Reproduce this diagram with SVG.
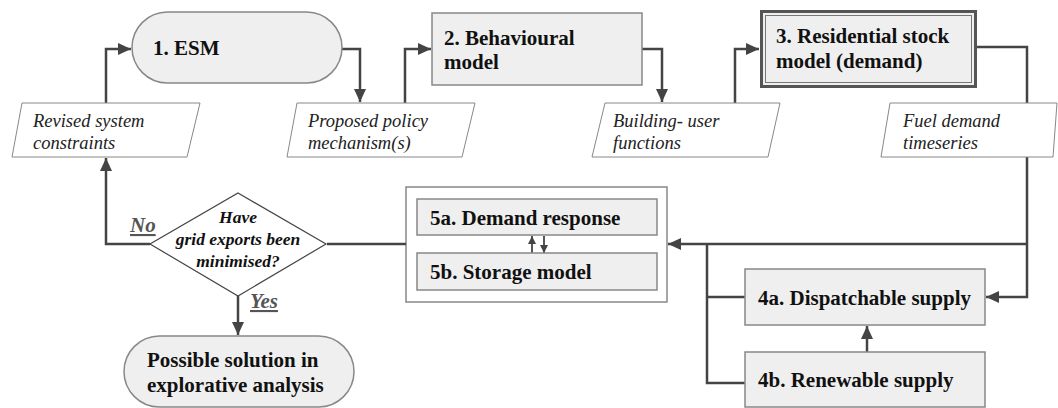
<svg xmlns="http://www.w3.org/2000/svg" width="1058" height="408" viewBox="0 0 1058 408">
<defs>
<marker id="arr" markerUnits="userSpaceOnUse" markerWidth="13" markerHeight="12" refX="13" refY="6" orient="auto"><path d="M0,0 L13,6 L0,12 z" fill="#444"/></marker>
<marker id="arrs" markerUnits="userSpaceOnUse" markerWidth="8" markerHeight="8" refX="8" refY="4" orient="auto"><path d="M0,0 L8,4 L0,8 z" fill="#444"/></marker>
</defs>
<style>
.c{fill:none;stroke:#444;stroke-width:2.5}
.cs{fill:none;stroke:#444;stroke-width:1.8}
.box{fill:#efefef;stroke:#888;stroke-width:1.5}
.para{fill:#fff;stroke:#888;stroke-width:1}
.b{font-family:"Liberation Serif","Times New Roman",serif;font-weight:bold;font-size:21px;fill:#111}
.i{font-family:"Liberation Serif","Times New Roman",serif;font-style:italic;font-size:18.5px;fill:#222}
.q{font-family:"Liberation Serif","Times New Roman",serif;font-style:italic;font-weight:bold;font-size:17.5px;fill:#111}
.yn{font-family:"Liberation Serif","Times New Roman",serif;font-style:italic;font-weight:bold;font-size:21px;fill:#555;text-decoration:underline}
</style>
<rect width="1058" height="408" fill="#fff"/>
<g id="storage-group">
<rect x="406" y="187" width="261" height="115" fill="#fff" stroke="#888" stroke-width="1.5"/>
</g>
<g id="connectors">
<path class="c" d="M342,49 H360 V102" marker-end="url(#arr)"/>
<path class="c" d="M405,103 V49 H431" marker-end="url(#arr)"/>
<path class="c" d="M642,49 H662 V102" marker-end="url(#arr)"/>
<path class="c" d="M735,103 V49 H759" marker-end="url(#arr)"/>
<path class="c" d="M977,47 H1027 V297 H986" marker-end="url(#arr)"/>
<path class="c" d="M1027,244 H668" marker-end="url(#arr)"/>
<path class="c" d="M707,244 V383 H745 M707,297 H745"/>
<path class="c" d="M867,352 V326" marker-end="url(#arr)"/>
<path class="c" d="M406,244 H327"/>
<path class="c" d="M150,244 H106 V158" marker-end="url(#arr)"/>
<path class="c" d="M106,103 V49 H131" marker-end="url(#arr)"/>
<path class="c" d="M238,296 V335" marker-end="url(#arr)"/>
<path class="cs" d="M532,253 V236" marker-end="url(#arrs)"/>
<path class="cs" d="M544,236 V253" marker-end="url(#arrs)"/>
</g>
<g id="esm">
<rect class="box" x="132" y="12" width="210" height="71" rx="35.5"/>
<text class="b" x="153" y="55">1. ESM</text>
</g>
<g id="behavioural">
<rect class="box" x="432" y="13" width="210" height="72"/>
<text class="b" x="444" y="45">2. Behavioural</text>
<text class="b" x="444" y="69">model</text>
</g>
<g id="residential">
<rect x="761.5" y="11.5" width="214" height="75" fill="#efefef" stroke="#555" stroke-width="3"/>
<rect x="765.5" y="15.5" width="206" height="67" fill="none" stroke="#777" stroke-width="1"/>
<text class="b" x="776" y="43">3. Residential stock</text>
<text class="b" x="776" y="68">model (demand)</text>
</g>
<g id="revised">
<polygon class="para" points="22,103 200,103 187,157 12,157"/>
<text class="i" x="33" y="127">Revised system</text>
<text class="i" x="33" y="149">constraints</text>
</g>
<g id="proposed">
<polygon class="para" points="297,103 475,103 462,157 287,157"/>
<text class="i" x="308" y="127">Proposed policy</text>
<text class="i" x="308" y="149">mechanism(s)</text>
</g>
<g id="building">
<polygon class="para" points="605,103 780,103 768,157 592,157"/>
<text class="i" x="613" y="127">Building- user</text>
<text class="i" x="613" y="149">functions</text>
</g>
<g id="fuel">
<polygon class="para" points="890,103 1057,103 1053,157 881,157"/>
<text class="i" x="903" y="127">Fuel demand</text>
<text class="i" x="903" y="149">timeseries</text>
</g>
<g id="decision">
<polygon points="238,193 326,244 238,296 150,244" fill="#fff" stroke="#444" stroke-width="1.2"/>
<text class="q" x="238" y="223" text-anchor="middle">Have</text>
<text class="q" x="238" y="245" text-anchor="middle">grid exports been</text>
<text class="q" x="238" y="267" text-anchor="middle">minimised?</text>
<text class="yn" x="130" y="232">No</text>
<text class="yn" x="250" y="308">Yes</text>
</g>
<g id="demand-response">
<rect class="box" x="417" y="199" width="240" height="36"/>
<text class="b" x="430" y="225">5a. Demand response</text>
</g>
<g id="storage">
<rect class="box" x="417" y="253" width="240" height="37"/>
<text class="b" x="430" y="279">5b. Storage model</text>
</g>
<g id="dispatchable">
<rect class="box" x="745" y="269" width="240" height="56"/>
<text class="b" x="758" y="305">4a. Dispatchable supply</text>
</g>
<g id="renewable">
<rect class="box" x="745" y="352" width="240" height="55"/>
<text class="b" x="758" y="387">4b. Renewable supply</text>
</g>
<g id="solution">
<rect class="box" x="124" y="336" width="230" height="71" rx="35.5"/>
<text class="b" x="147" y="367">Possible solution in</text>
<text class="b" x="147" y="392">explorative analysis</text>
</g>
</svg>
